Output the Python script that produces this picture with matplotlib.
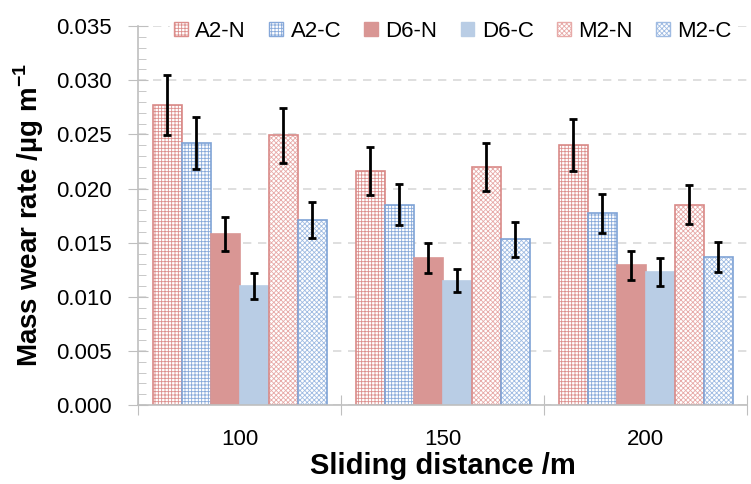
import matplotlib
matplotlib.use("Agg")
import matplotlib.pyplot as plt
import numpy as np
from matplotlib.patches import Patch

# data
distances = ["100", "150", "200"]
series = ["A2-N", "A2-C", "D6-N", "D6-C", "M2-N", "M2-C"]
a2_n = [0.0277, 0.0216, 0.0240]
a2_c = [0.0242, 0.0185, 0.0177]
d6_n = [0.0158, 0.0136, 0.0129]
d6_c = [0.0110, 0.0115, 0.0123]
m2_n = [0.0249, 0.0220, 0.0185]
m2_c = [0.0171, 0.0153, 0.0137]
a2_n_err = [0.0028, 0.0022, 0.0024]
a2_c_err = [0.0024, 0.0019, 0.0018]
d6_n_err = [0.0016, 0.0014, 0.0013]
d6_c_err = [0.0012, 0.0011, 0.0013]
m2_n_err = [0.0025, 0.0022, 0.0018]
m2_c_err = [0.0017, 0.0016, 0.0014]

values = [a2_n, a2_c, d6_n, d6_c, m2_n, m2_c]
errors = [a2_n_err, a2_c_err, d6_n_err, d6_c_err, m2_n_err, m2_c_err]

red_edge = "#d98a88"
blue_edge = "#7fa3d6"
# (face, hatch colour, hatch, outline)
styles = [
    ("white", "#dc8e8c", "+++++", red_edge),
    ("white", "#86a8d9", "+++++", blue_edge),
    ("#d99694", "#d99694", None, "#d99694"),
    ("#b9cde5", "#b9cde5", None, "#b9cde5"),
    ("white", "#e7aaa8", "xxxxxxx", red_edge),
    ("white", "#9fbbe2", "xxxxxxx", blue_edge),
]

plt.rcParams["hatch.linewidth"] = 0.6
plt.rcParams["font.family"] = ["Liberation Sans", "DejaVu Sans"]
plt.rcParams["mathtext.fontset"] = "custom"
plt.rcParams["mathtext.rm"] = "Liberation Sans:bold"

fig = plt.figure(figsize=(7.51, 4.84), dpi=100)
ax = fig.add_axes([0.184, 0.163, 0.811, 0.783])

x = np.arange(len(distances))
width = 1 / 7
for j, (vals, errs, st) in enumerate(zip(values, errors, styles)):
    face, hcol, hatch, edge = st
    pos = x + (j - 2.5) * width
    ax.bar(pos, vals, width, facecolor=face, edgecolor=hcol, hatch=hatch,
           linewidth=0, zorder=2)
    ax.bar(pos, vals, width, facecolor="none", edgecolor=edge, linewidth=1.2, zorder=2)
    ax.errorbar(pos, vals, yerr=errs, fmt="none", ecolor="black",
                elinewidth=2, capsize=3, capthick=2, zorder=3)

ax.set_xlim(-0.5, 2.5)
ax.set_ylim(0, 0.035)
ax.set_yticks(np.arange(0, 0.0351, 0.005))
ax.set_yticks(np.arange(0, 0.0351, 0.001), minor=True)
ax.yaxis.set_major_formatter(matplotlib.ticker.FormatStrFormatter("%.3f"))
ax.grid(axis="y", which="major", linestyle=(0, (5, 4)), color="#d9d9d9", linewidth=1.2, zorder=0)

ax.set_xticks([-0.5, 0.5, 1.5, 2.5])
ax.set_xticklabels([])
ax.set_xticks(x, minor=True)
ax.set_xticklabels(distances, minor=True)

ax.tick_params(axis="y", which="major", direction="inout", length=14, color="#bfbfbf", labelsize=16, pad=12)
ax.tick_params(axis="y", which="minor", direction="in", length=6, color="#bfbfbf")
ax.tick_params(axis="x", which="major", direction="inout", length=14, color="#bfbfbf")
ax.tick_params(axis="x", which="minor", length=0, labelsize=16, pad=17)

for side in ["top", "right"]:
    ax.spines[side].set_visible(False)
for side in ["left", "bottom"]:
    ax.spines[side].set_color("#bfbfbf")
    ax.spines[side].set_linewidth(1.2)

ax.set_ylabel("Mass wear rate /µg m$^{\\mathrm{-1}}$", fontsize=20, fontweight="bold", labelpad=7)
ax.set_xlabel("Sliding distance /m", fontsize=21, fontweight="bold", labelpad=2)

handles = [Patch(facecolor=face, edgecolor=hcol, hatch=hatch, label=s, linewidth=1)
           for s, (face, hcol, hatch, edge) in zip(series, styles)]
leg = ax.legend(handles=handles, ncol=6, loc="center right", bbox_to_anchor=(1.0, 0.987),
                frameon=True, framealpha=1, edgecolor="white", fontsize=16,
                handlelength=0.6, handleheight=0.6, handletextpad=0.35, columnspacing=1.05,
                borderpad=0.2)

fig.savefig("out.png", dpi=100)
